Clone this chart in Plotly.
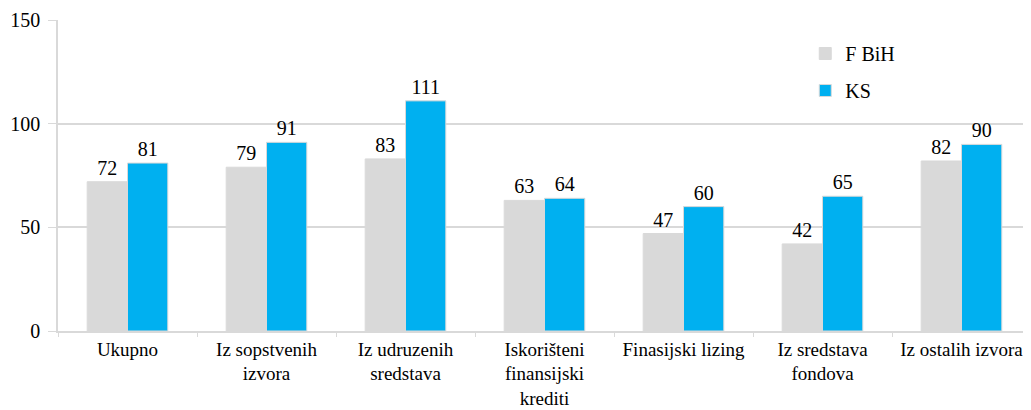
import plotly.graph_objects as go

categories = ["Ukupno", "Iz sopstvenih<br>izvora", "Iz udruzenih<br>sredstava",
              "Iskorišteni<br>finansijski<br>krediti", "Finasijski lizing",
              "Iz sredstava<br>fondova", "Iz ostalih izvora"]
fbih = [72, 79, 83, 63, 47, 42, 82]
ks = [81, 91, 111, 64, 60, 65, 90]

serif = "Liberation Serif"

fig = go.Figure()
fig.add_trace(go.Bar(
    x=categories, y=fbih, name="F BiH", legendgroup="a",
    marker=dict(color="#d9d9d9", line=dict(color="#d9d9d9", width=1)),
    text=fbih, textposition="outside", cliponaxis=False,
    textfont=dict(size=20, color="black", family=serif)
))
fig.add_trace(go.Bar(
    x=categories, y=ks, name="KS", legendgroup="b",
    marker=dict(color="#00b0f0", line=dict(color="#d9d9d9", width=1)),
    text=ks, textposition="outside", cliponaxis=False,
    textfont=dict(size=20, color="black", family=serif)
))

# page body adds an 8px margin, so the figure is sized to fit inside 1031x410
fig.update_layout(
    width=1023, height=402,
    barmode="group", bargap=0.42, bargroupgap=0,
    margin=dict(t=12, l=50, r=0, b=79, autoexpand=False),
    plot_bgcolor="white", paper_bgcolor="white",
    font=dict(family=serif, size=20, color="black"),
    legend=dict(x=0.768, y=0.955, xanchor="left", yanchor="top",
                font=dict(size=20, family=serif, color="black"), tracegroupgap=8,
                traceorder="grouped", itemwidth=30, bgcolor="rgba(0,0,0,0)"),
)
fig.update_yaxes(range=[0, 150], tickvals=[0, 50, 100, 150], automargin=False,
                 showgrid=True, gridcolor="#d9d9d9", gridwidth=1.5,
                 showline=True, linecolor="#d9d9d9", linewidth=1.5,
                 ticks="outside", ticklen=8, tickcolor="#d9d9d9",
                 ticklabelstandoff=4,
                 zeroline=False, tickfont=dict(size=20, family=serif, color="black"))
fig.update_xaxes(showline=True, linecolor="#d9d9d9", linewidth=1.5, automargin=False,
                 ticks="outside", tickson="boundaries", ticklen=4,
                 tickcolor="#d9d9d9", tickangle=0,
                 tickfont=dict(size=19, family=serif, color="black"))

fig.write_html("out.html")
